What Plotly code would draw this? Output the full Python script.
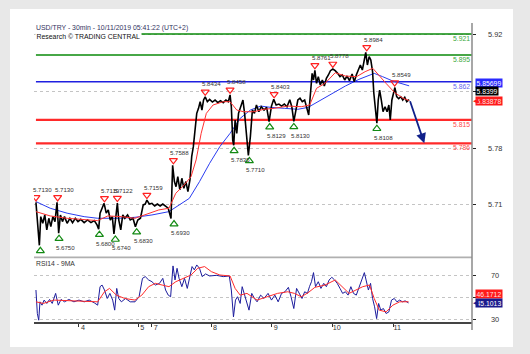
import plotly.graph_objects as go

# ---------------- data ----------------
day_labels = ["4", "5", "7", "8", "9", "10", "11"]
day_bars = [34.9, 81.9, 92.5, 139.5, 187.6, 235.9, 283.9]

bars = [0.8, 2.2, 3.5, 4.6, 6.2, 7.8, 9.4, 11.0, 12.6, 14.2, 15.9, 17.5, 18.8, 20.2, 21.8, 23.4, 25.5, 27.7,
        29.8, 32.0, 34.1, 36.3, 39.0, 41.7, 44.4, 47.0, 49.2, 50.5, 51.6, 53.2, 54.8, 56.5, 58.1, 59.7, 61.3,
        62.6, 64.0, 65.3, 66.4, 68.0, 69.6, 71.2, 73.4, 75.5, 77.7, 79.6, 81.5, 83.6, 85.8, 87.4, 88.7, 90.6,
        92.7, 94.9, 97.0, 99.2, 101.3, 103.5, 105.6, 107.8, 109.1, 110.5, 111.8, 113.2, 114.8, 116.4, 118.0,
        119.6, 121.2, 122.8, 124.2, 125.5, 126.9, 128.2, 129.6, 130.9, 132.3, 133.6, 134.9, 136.6, 138.4,
        140.6, 142.7, 144.9, 147.0, 149.2, 151.3, 153.2, 154.6, 155.6, 156.7, 157.5, 158.6, 159.9, 161.3,
        163.2, 164.8, 166.1, 167.5, 169.1, 170.7, 172.3, 173.9, 175.5, 177.4, 179.3, 181.5, 183.6, 185.5,
        187.4, 189.2, 191.1, 193.3, 195.4, 197.6, 199.7, 201.9, 203.5, 205.1, 206.7, 208.3, 210.0, 211.8,
        213.7, 215.3, 216.9, 218.3, 219.6, 220.7, 221.8, 223.1, 224.5, 226.1, 227.7, 229.3, 230.9, 232.5,
        234.1, 236.0, 237.9, 239.8, 241.7, 243.5, 245.4, 247.3, 249.2, 251.3, 253.0, 254.6, 256.2, 257.8,
        259.4, 260.8, 262.1, 263.4, 264.8, 266.1, 267.5, 268.5, 269.6, 270.9, 272.0, 273.1, 274.4, 275.8,
        277.4, 279.0, 280.4, 281.5, 282.8, 284.1, 285.2, 286.6, 288.2, 289.8, 291.4, 293.0, 294.6, 296.5]
close = [5.7130, 5.6790, 5.6600, 5.6954, 5.6872, 5.6975, 5.6790, 5.6934, 5.6831, 5.6954, 5.6893, 5.7130,
         5.6750, 5.6975, 5.6893, 5.6954, 5.6872, 5.6934, 5.6880, 5.6934, 5.6893, 5.6921, 5.6880, 5.6913,
         5.6880, 5.6905, 5.6852, 5.6800, 5.6997, 5.7058, 5.7119, 5.6997, 5.7038, 5.6913, 5.6954, 5.6740,
         5.6913, 5.7122, 5.6913, 5.6790, 5.6975, 5.6934, 5.6975, 5.6913, 5.6934, 5.6830, 5.6913, 5.6934,
         5.7099, 5.7110, 5.7159, 5.7110, 5.7119, 5.7086, 5.7110, 5.7086, 5.7110, 5.7078, 5.7058, 5.6930,
         5.7588, 5.7387, 5.7324, 5.7449, 5.7284, 5.7428, 5.7304, 5.7387, 5.7263, 5.7408, 5.7696, 5.7819,
         5.8025, 5.8230, 5.8292, 5.8374, 5.8271, 5.8395, 5.8434, 5.8374, 5.8403, 5.8370, 5.8395, 5.8362,
         5.8387, 5.8362, 5.8395, 5.8374, 5.8458, 5.8312, 5.7900, 5.7835, 5.8148, 5.7983, 5.8230, 5.8312,
         5.8395, 5.8230, 5.7983, 5.7710, 5.7946, 5.8271, 5.8230, 5.8333, 5.8250, 5.8312, 5.8271, 5.8304,
         5.8129, 5.8320, 5.8403, 5.8333, 5.8345, 5.8320, 5.8345, 5.8312, 5.8399, 5.8312, 5.8130, 5.8271,
         5.8395, 5.8416, 5.8374, 5.8395, 5.8312, 5.8209, 5.8477, 5.8724, 5.8642, 5.8761, 5.8600, 5.8683,
         5.8580, 5.8642, 5.8568, 5.8662, 5.8704, 5.8757, 5.8778, 5.8757, 5.8724, 5.8683, 5.8704, 5.8642,
         5.8691, 5.8634, 5.8716, 5.8621, 5.8704, 5.8765, 5.8827, 5.8765, 5.8910, 5.8984, 5.8827, 5.8930,
         5.8889, 5.8745, 5.8478, 5.8271, 5.8108, 5.8395, 5.8518, 5.8395, 5.8250, 5.8312, 5.8250, 5.8333,
         5.8148, 5.8395, 5.8477, 5.8549, 5.8436, 5.8411, 5.8436, 5.8395, 5.8428, 5.8374, 5.8399]

ma_fast_bars = [0.8, 12.1, 25.5, 39.0, 49.7, 57.8, 68.5, 79.3, 87.4, 98.1, 106.2, 111.6, 118.3, 123.7, 127.7,
                131.7, 135.8, 141.1, 149.2, 154.6, 159.9, 165.3, 173.4, 181.5, 189.5, 200.3, 211.0, 217.7,
                223.1, 229.8, 237.9, 246.0, 254.8, 261.6, 267.7, 272.2, 278.2, 285.0, 291.7, 296.5]
ma_fast = [5.7016, 5.6963, 5.6934, 5.6913, 5.6905, 5.6963, 5.6954, 5.6934, 5.6975, 5.7037, 5.7058, 5.7243,
           5.7346, 5.7449, 5.7655, 5.7983, 5.8230, 5.8333, 5.8374, 5.8374, 5.8271, 5.8250, 5.8250, 5.8280,
           5.8292, 5.8320, 5.8312, 5.8333, 5.8539, 5.8600, 5.8732, 5.8691, 5.8683, 5.8745, 5.8786, 5.8704,
           5.8600, 5.8486, 5.8416, 5.83878]

ma_slow_bars = [0.8, 12.1, 25.5, 39.0, 49.7, 65.9, 79.3, 92.7, 106.2, 114.2, 122.3, 130.4, 138.4, 146.5,
                154.6, 162.6, 170.7, 178.8, 186.8, 197.6, 208.3, 216.4, 224.5, 235.2, 246.0, 256.7, 264.8,
                268.8, 275.5, 283.6, 296.5]
ma_slow = [5.7140, 5.7058, 5.6997, 5.6954, 5.6934, 5.6934, 5.6946, 5.6975, 5.7016, 5.7099, 5.7180, 5.7387,
           5.7613, 5.7819, 5.7983, 5.8168, 5.8271, 5.8320, 5.8304, 5.8292, 5.8280, 5.8304, 5.8374, 5.8477,
           5.8568, 5.8650, 5.8704, 5.8724, 5.8683, 5.8629, 5.85699]

rsi_bars = [0.8, 1.9, 3.0, 4.0, 5.6, 7.3, 9.4, 11.6, 13.7, 16.4, 18.5, 20.7, 23.4, 26.9, 30.9, 34.9, 39.0,
            43.0, 47.0, 49.7, 51.6, 53.2, 55.1, 57.3, 59.4, 61.6, 63.2, 64.8, 66.4, 68.5, 71.8, 75.5, 79.3,
            82.5, 85.2, 87.4, 90.1, 92.7, 95.4, 98.7, 101.3, 103.5, 105.6, 107.5, 109.4, 111.0, 112.6, 114.2,
            116.4, 118.5, 120.7, 122.8, 124.5, 126.3, 128.2, 130.4, 132.5, 135.2, 138.4, 143.8, 149.2, 154.0,
            155.6, 157.3, 158.9, 160.5, 162.6, 164.2, 165.9, 168.0, 169.6, 171.8, 173.9, 176.0, 178.8, 181.5,
            184.7, 187.4, 190.1, 192.7, 195.4, 198.1, 200.8, 202.9, 205.1, 207.3, 209.4, 211.6, 213.7, 215.9,
            217.5, 219.1, 220.7, 222.3, 224.5, 226.6, 228.8, 230.9, 233.1, 235.2, 237.4, 239.5, 241.7, 243.8,
            246.0, 248.1, 250.3, 252.4, 254.6, 256.7, 258.9, 261.0, 262.6, 264.2, 265.9, 267.5, 269.1, 270.7,
            272.3, 274.0, 276.1, 278.2, 280.4, 282.5, 284.7, 286.8, 289.0, 291.1, 293.3, 296.0]
rsi = [57, 35.3, 29.1, 46.1, 43, 47.7, 44.6, 48.3, 44.6, 53.9, 43, 48.3, 46.1, 48.3, 46.1, 47.7, 46.1, 47.7,
       45.2, 43, 60.1, 61.6, 57, 49.2, 53.9, 47.7, 38.4, 58.5, 49.2, 46.1, 49.2, 46.1, 46.1, 50.8, 67.8, 69.4,
       66.3, 64.7, 61.6, 63.2, 67.8, 57, 52.3, 50.8, 79.3, 66.3, 77.1, 67.8, 60.1, 67.8, 58.5, 69.4, 78.7, 75.6,
       80.2, 77.1, 69.4, 71.9, 70, 70.6, 69.4, 70, 57, 32.2, 47.7, 50.8, 44.6, 60.1, 53.9, 44.6, 38.4, 53.9,
       49.2, 46.1, 52.3, 49.2, 53.9, 47.7, 52.3, 46.1, 53.9, 55.4, 59.5, 50.8, 39.9, 58.5, 53.9, 49.2, 55.4,
       53.9, 60.1, 64.7, 73.1, 60.1, 64.7, 58.5, 63.2, 60.1, 66.3, 68.8, 66.3, 63.2, 58.5, 53.9, 55.4, 52.3,
       60.1, 53.9, 52.3, 60.1, 66.3, 73.1, 63.2, 57, 63.2, 49.2, 41.5, 30.6, 44.6, 38.4, 39.9, 35.3, 36.8, 47.7,
       49.2, 46.1, 47.7, 46.1, 47, 45.1013]

rsi_ma_bars = [0.8, 6.7, 14.8, 25.5, 39.0, 49.7, 55.1, 59.1, 64.5, 71.2, 79.3, 84.7, 90.1, 95.4, 100.8, 106.2,
               111.6, 118.3, 123.7, 129.0, 134.4, 139.8, 146.5, 154.6, 158.6, 162.6, 168.0, 176.0, 184.1,
               192.2, 200.3, 205.6, 211.0, 216.4, 221.8, 229.8, 237.9, 243.5, 248.9, 254.3, 259.7, 265.1,
               268.8, 272.8, 278.2, 283.6, 289.0, 296.0]
rsi_ma = [46.1, 44.6, 47.7, 47, 46.7, 46.1, 55.4, 58.5, 52.3, 49.2, 47.7, 52.3, 60.1, 63.2, 61.6, 60.1, 64.7,
          67.8, 70.9, 77.1, 78.7, 74, 70.9, 70, 58.5, 52.3, 53.9, 47.7, 50.8, 53.9, 55.4, 53.9, 50.8, 54.5,
          59.5, 61.6, 66.3, 60.1, 53.9, 57, 60.1, 61.6, 49.2, 38.4, 36.8, 43, 46.1, 46.1712]

high_bars = [0.8, 18.0, 55.1, 65.3, 88.7, 109.7, 134.9, 154.6, 189.5, 221.8, 236.0, 262.9, 285.0]
high_vals = [5.7130, 5.7130, 5.7119, 5.7122, 5.7159, 5.7588, 5.8434, 5.8458, 5.8403, 5.8761, 5.8778, 5.8984, 5.8549]
low_bars = [4.3, 19.1, 51.1, 63.7, 80.6, 110.2, 157.8, 169.9, 186.0, 205.1, 270.9]
low_vals = [5.6600, 5.6750, 5.6800, 5.6740, 5.6830, 5.6930, 5.7835, 5.7710, 5.8129, 5.8130, 5.8108]

levels = [5.921, 5.895, 5.862, 5.815, 5.786]
level_kind = ["res", "res", "pivot", "sup", "sup"]

price_ticks = [5.71, 5.78, 5.85, 5.92]
price_tick_text = ["5.71", "5.78", "", "5.92"]
rsi_ticks = [30, 50, 70]
rsi_tick_text = ["30", "", "70"]

last_slow, last_price, last_fast = 5.85699, 5.8399, 5.83878
last_rsi, last_rsi_ma = 45.1013, 46.1712
target = 5.786

title1 = "USD/TRY - 30min - 10/11/2019 05:41:22 (UTC+2)"
title2 = "Research © TRADING CENTRAL"
rsi_title = "RSI14 - 9MA"

# ---------------- layout geometry (pixels) ----------------
W, H = 530, 354
L, R, T, B = 34, 472, 23, 322
SEP = 257.3
PX_R, PX_P0 = 1.2622, 34.93          # px per bar, px of bar 0
x_range = [(L - PX_P0) / PX_R, (R - PX_P0) / PX_R]
split = (B - SEP) / (B - T)
p_range = [5.6452, 5.9346]
r_range = [27.44, 87.27]
ppu = (SEP - T) / (p_range[1] - p_range[0])  # px per price unit


def xp(px):
    return (px - L) / (R - L)


def yp(py):
    return (B - py) / (B - T)


FONT = "Liberation Sans, Arial, sans-serif"
style = {
    "res": dict(color="#0a8a0a", width=1.4, label="#3aa83a"),
    "pivot": dict(color="#1f1fe0", width=1.6, label="#6464f0"),
    "sup": dict(color="#ff2a2a", width=2.2, label="#ff4a4a"),
}

fig = go.Figure()

# RSI
fig.add_trace(go.Scatter(x=rsi_bars, y=rsi, mode="lines", line=dict(color="#1c1c9c", width=1),
                         xaxis="x", yaxis="y2", hoverinfo="skip"))
fig.add_trace(go.Scatter(x=rsi_ma_bars, y=rsi_ma, mode="lines", line=dict(color="#ff2a2a", width=1),
                         xaxis="x", yaxis="y2", hoverinfo="skip"))

# price
fig.add_trace(go.Scatter(x=ma_slow_bars, y=ma_slow, mode="lines", line=dict(color="#2a3cf0", width=1),
                         xaxis="x", yaxis="y", hoverinfo="skip"))
fig.add_trace(go.Scatter(x=bars, y=close, mode="lines", line=dict(color="#000000", width=1.6),
                         xaxis="x", yaxis="y", hoverinfo="skip"))
fig.add_trace(go.Scatter(x=ma_fast_bars, y=ma_fast, mode="lines", line=dict(color="#ff3030", width=1),
                         xaxis="x", yaxis="y", hoverinfo="skip"))

# markers
fig.add_trace(go.Scatter(x=high_bars, y=[v + 5 / ppu for v in high_vals], mode="markers",
                         marker=dict(symbol="triangle-down-open", size=7, color="#ff2020",
                                     line=dict(width=1.2, color="#ff2020")),
                         xaxis="x", yaxis="y", hoverinfo="skip"))
fig.add_trace(go.Scatter(x=low_bars, y=[v - 5.5 / ppu for v in low_vals], mode="markers",
                         marker=dict(symbol="triangle-up-open", size=7, color="#138a13",
                                     line=dict(width=1.2, color="#138a13")),
                         xaxis="x", yaxis="y", hoverinfo="skip"))

shapes = []
# white card inside the grey frame
shapes.append(dict(type="rect", xref="paper", yref="paper", x0=xp(10), x1=xp(513), y0=yp(347), y1=yp(9),
                   fillcolor="white", line=dict(width=0), layer="below"))
for lv, kind in zip(levels, level_kind):
    s = style[kind]
    shapes.append(dict(type="line", xref="x", yref="y", x0=bars[0], x1=x_range[1], y0=lv, y1=lv,
                       line=dict(color=s["color"], width=s["width"]), layer="between"))
# panel separator
shapes.append(dict(type="line", xref="paper", yref="paper", x0=0, x1=1, y0=split, y1=split,
                   line=dict(color="#b0b0b0", width=1.8)))
# right axis line
shapes.append(dict(type="line", xref="paper", yref="paper", x0=1, x1=1, y0=yp(330), y1=1,
                   line=dict(color="#8a8a8a", width=1.5)))

ann = []
ann.append(dict(xref="paper", yref="paper", x=xp(35), y=yp(28), xanchor="left", yanchor="middle",
                text=title1, showarrow=False, font=dict(family=FONT, size=6.9, color="#33335e"),
                borderpad=0))
ann.append(dict(xref="paper", yref="paper", x=xp(35), y=yp(36.3), xanchor="left", yanchor="middle",
                text=title2, showarrow=False, font=dict(family=FONT, size=6.9, color="#111111"),
                bgcolor="white", borderpad=0.5))
ann.append(dict(xref="paper", yref="paper", x=xp(35), y=yp(263), xanchor="left", yanchor="middle",
                text=rsi_title, showarrow=False, font=dict(family=FONT, size=6.8, color="#333333"),
                borderpad=0))

for b, v in zip(high_bars, high_vals):
    ann.append(dict(xref="x", yref="y", x=b, y=v, xanchor="left", yanchor="middle", xshift=-4, yshift=13,
                    text=f"{v:.4f}", showarrow=False, font=dict(family=FONT, size=6.1, color="#333333"),
                    borderpad=0))
for b, v in zip(low_bars, low_vals):
    if (v - p_range[0]) * ppu < 18:
        continue  # label would fall below the panel
    ann.append(dict(xref="x", yref="y", x=b, y=v, xanchor="left", yanchor="middle", xshift=-4, yshift=-14,
                    text=f"{v:.4f}", showarrow=False, font=dict(family=FONT, size=6.1, color="#333333"),
                    borderpad=0))

for lv, kind in zip(levels, level_kind):
    ann.append(dict(xref="paper", yref="y", x=1, y=lv, xanchor="right", yanchor="middle", xshift=-1,
                    yshift=-4.6, text=f"{lv:.3f}", showarrow=False,
                    font=dict(family=FONT, size=6.8, color=style[kind]["label"]), borderpad=0))

for t, txt in zip(price_ticks, price_tick_text):
    if txt:
        ann.append(dict(xref="paper", yref="y", x=1, y=t, xanchor="center", yanchor="middle", xshift=23,
                        text=txt, showarrow=False, font=dict(family=FONT, size=7.4, color="#333333")))
for t, txt in zip(rsi_ticks, rsi_tick_text):
    if txt:
        ann.append(dict(xref="paper", yref="y2", x=1, y=t, xanchor="center", yanchor="middle", xshift=23,
                        text=txt, showarrow=False, font=dict(family=FONT, size=7.4, color="#333333")))

# value boxes
box = dict(xref="paper", x=1, xanchor="left", yanchor="middle", xshift=3, showarrow=False, borderpad=0.6)
ann.append(dict(box, yref="y", y=last_slow, yshift=3.3, text=f"{last_slow:.5f}", bgcolor="#2a2aff",
                font=dict(family=FONT, size=6.8, color="white")))
ann.append(dict(box, yref="y", y=last_price, yshift=8.2, text=f"{last_price:.4f}", bgcolor="#000000",
                font=dict(family=FONT, size=6.8, color="white")))
ann.append(dict(box, yref="y", y=last_fast, yshift=0, text=f"{last_fast:.5f}", bgcolor="#ff1a1a",
                font=dict(family=FONT, size=6.8, color="#ffe0e0")))
ann.append(dict(xref="paper", x=1, xanchor="left", yanchor="middle", xshift=-1, showarrow=False,
                yref="y", y=last_fast, text="◀", font=dict(size=7, color="#ff1a1a")))
ann.append(dict(box, yref="y2", y=last_rsi_ma, yshift=7.6, text=f"{last_rsi_ma:.4f}", bgcolor="#ff1a1a",
                font=dict(family=FONT, size=6.8, color="#ffe0e0")))
ann.append(dict(box, yref="y2", y=last_rsi, yshift=0, text=f"{last_rsi:.4f}", bgcolor="#1a1a8c",
                font=dict(family=FONT, size=6.8, color="white")))
ann.append(dict(xref="paper", x=1, xanchor="left", yanchor="middle", xshift=-1, showarrow=False,
                yref="y2", y=last_rsi, text="◀", font=dict(size=7, color="#1a1a8c")))

# forecast arrow
ann.append(dict(xref="x", yref="y", axref="x", ayref="y", x=bars[-1] + 12, y=target,
                ax=bars[-1] + 0.3, ay=close[-1], showarrow=True, arrowhead=2, arrowsize=1.1,
                arrowwidth=1.8, arrowcolor="#10208a", text=""))

fig.update_layout(
    width=W, height=H,
    margin=dict(l=L, r=W - R, t=T, b=H - B),
    paper_bgcolor="#e8e8e8", plot_bgcolor="rgba(0,0,0,0)",
    showlegend=False,
    shapes=shapes, annotations=ann,
    xaxis=dict(range=x_range, domain=[0, 1], anchor="y2", tickvals=day_bars, ticktext=day_labels,
               ticks="outside", ticklen=3, tickcolor="#333333", showline=True, linecolor="#444444",
               linewidth=1.5, showgrid=False, zeroline=False, ticklabelshift=4, ticklabelstandoff=-5,
               tickfont=dict(family=FONT, size=7.2, color="#333333")),
    yaxis=dict(range=p_range, domain=[split, 1], anchor="x", side="right", tickvals=price_ticks,
               showticklabels=False, ticks="outside", ticklen=3, tickcolor="#222222",
               showgrid=True, gridcolor="#c4c4c4", griddash="dot", gridwidth=1, zeroline=False,
               showline=False),
    yaxis2=dict(range=r_range, domain=[0, split], anchor="x", side="right", tickvals=rsi_ticks,
                showticklabels=False, ticks="outside", ticklen=3, tickcolor="#222222",
                showgrid=True, gridcolor="#c4c4c4", griddash="dot", gridwidth=1, zeroline=False,
                showline=False),
)

fig.write_html("out.html")
